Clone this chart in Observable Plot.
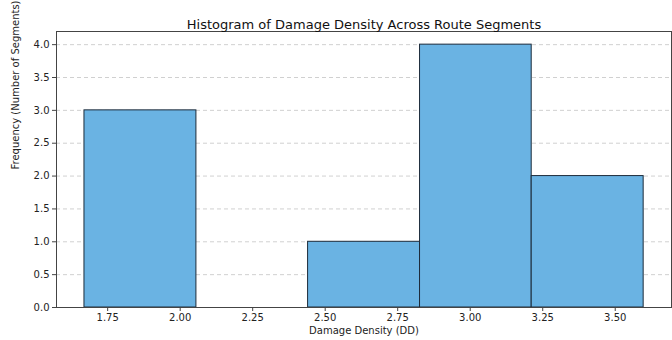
<!DOCTYPE html>
<html>
<head>
<meta charset="utf-8">
<script src="https://cdn.jsdelivr.net/npm/d3@7"></script>
<script src="https://cdn.jsdelivr.net/npm/@observablehq/plot@0.6"></script>
<style>
  html, body { margin: 0; padding: 0; background: #fff; }
  #chart svg { font-family: "DejaVu Sans", sans-serif; }
</style>
</head>
<body>
<div id="chart"></div>
<script>
// Histogram bins
const binStart = [1.670, 2.056, 2.441, 2.827, 3.212];
const binEnd   = [2.056, 2.441, 2.827, 3.212, 3.598];
const counts   = [3, 0, 1, 4, 2];

const xTicks = [1.75, 2.00, 2.25, 2.50, 2.75, 3.00, 3.25, 3.50];
const yTicks = [0, 0.5, 1.0, 1.5, 2.0, 2.5, 3.0, 3.5, 4.0];

const titleText = "Histogram of Damage Density Across Route Segments";
const xLabel = "Damage Density (DD)";
const yLabel = "Frequency (Number of Segments)";

const bins = binStart.map((s, i) => ({x1: s, x2: binEnd[i], y: counts[i]})).filter(d => d.y > 0);

const chart = Plot.plot({
  width: 672,
  height: 340,
  marginLeft: 56,
  marginRight: 1,
  marginTop: 31,
  marginBottom: 33,
  style: {background: "#fff", fontFamily: "DejaVu Sans, sans-serif", color: "#222"},
  x: {domain: [1.5736, 3.694], label: null},
  y: {domain: [0, 4.2], label: null},
  marks: [
    Plot.gridY(yTicks, {stroke: "#c4c4c4", strokeOpacity: 1, strokeDasharray: "4,3", strokeWidth: 0.8}),
    Plot.rectY(bins, {x1: "x1", x2: "x2", y: "y", fill: "#6ab3e3", stroke: "#1c2b3a", strokeWidth: 1, inset: 0}),
    Plot.frame({stroke: "#444", strokeWidth: 1}),
    Plot.axisX(xTicks, {tickFormat: d3.format(".2f"), tickSize: 4, tickPadding: 2, fontSize: 10, label: null, stroke: "#444"}),
    Plot.axisY(yTicks, {tickFormat: d3.format(".1f"), tickSize: 4, tickPadding: 3, fontSize: 10, label: null, stroke: "#444"}),
    Plot.text([titleText], {frameAnchor: "top", dy: -12, fontSize: 13, fill: "#111"}),
    Plot.text([xLabel], {frameAnchor: "bottom", dy: 26, fontSize: 10, fill: "#222"}),
    Plot.text([yLabel], {frameAnchor: "left", dx: -41, rotate: -90, fontSize: 10, fill: "#222"})
  ]
});
document.getElementById("chart").append(chart);
</script>
</body>
</html>
